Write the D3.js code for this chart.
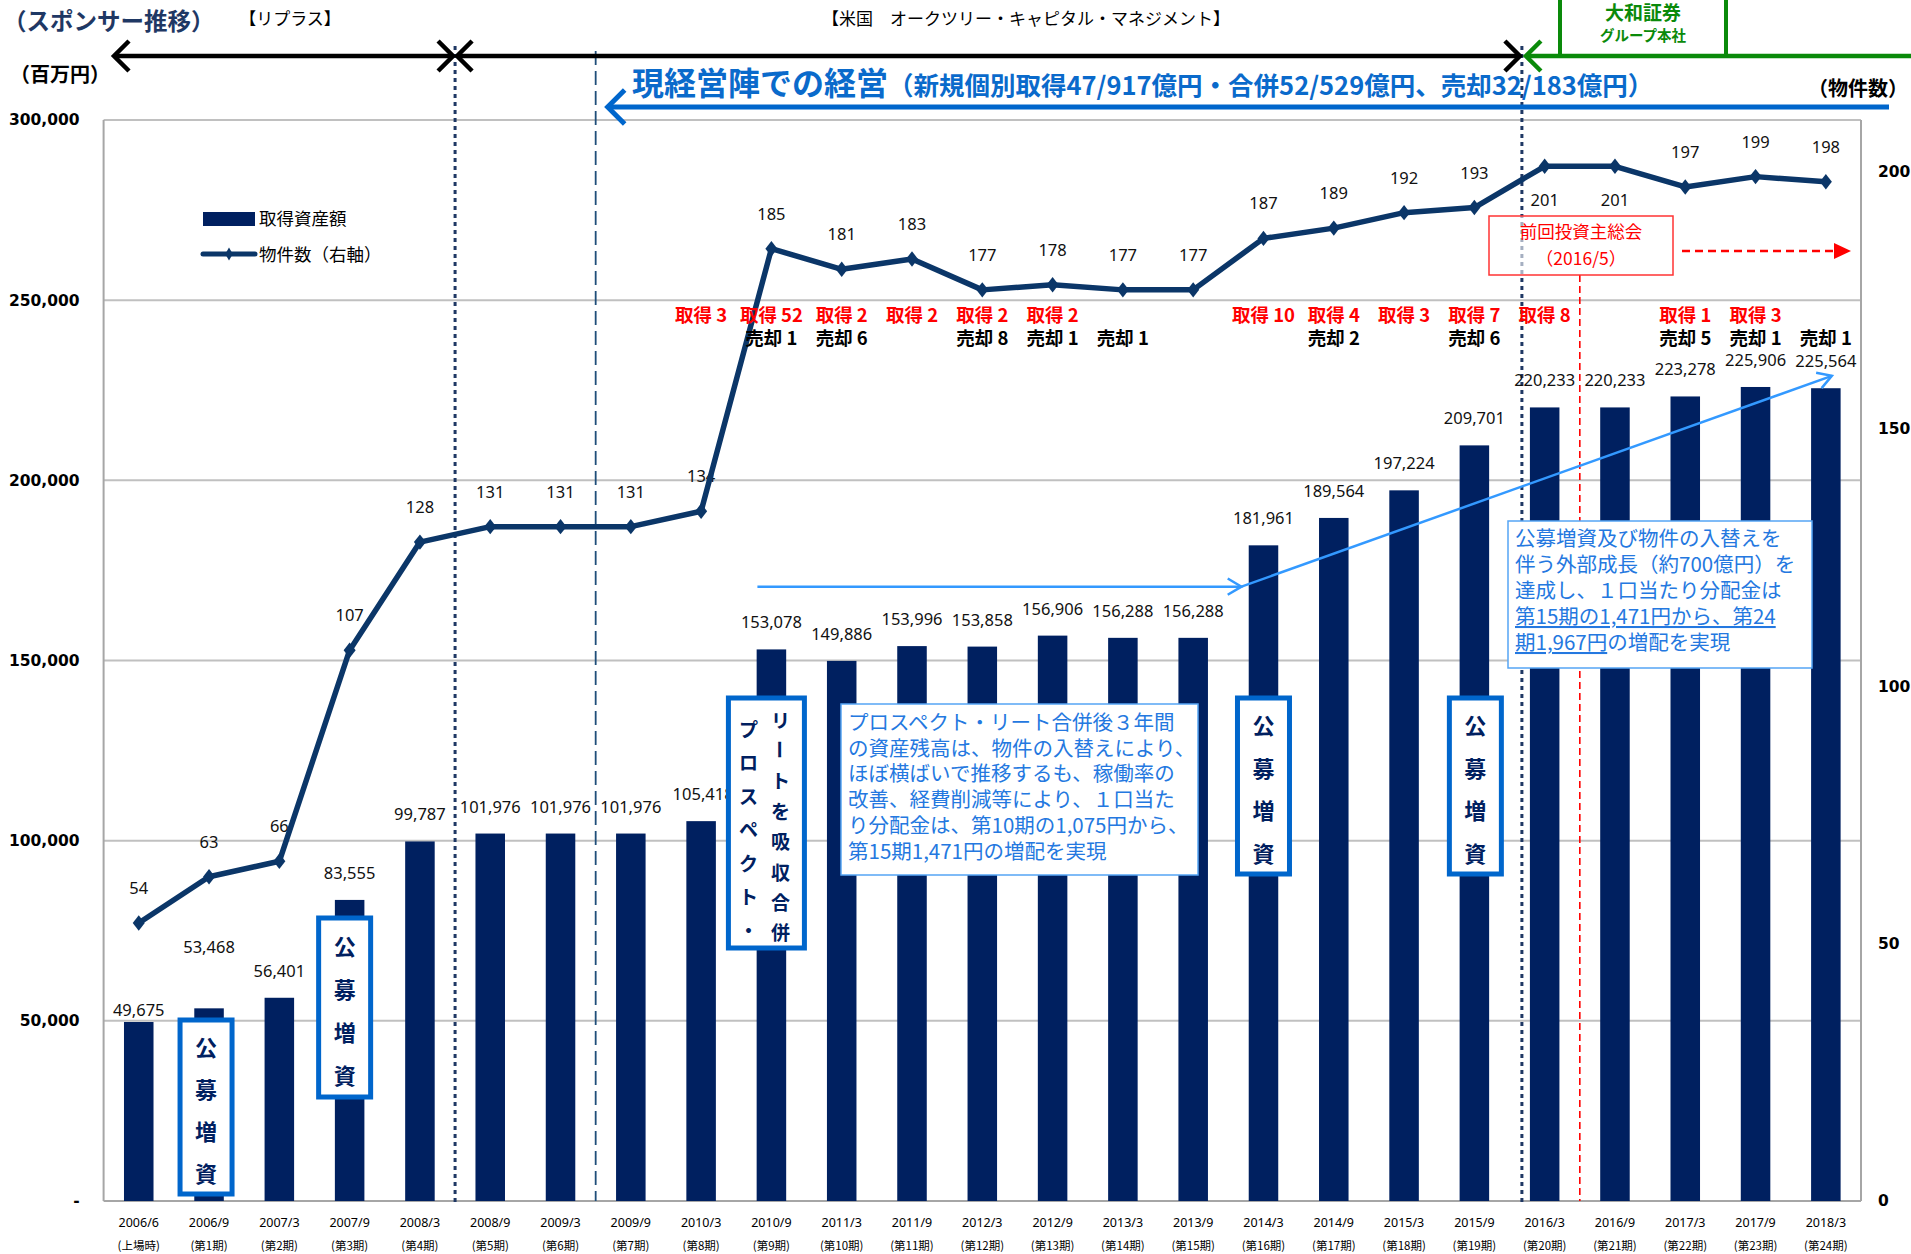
<!DOCTYPE html>
<html><head><meta charset="utf-8">
<script src="https://cdn.jsdelivr.net/npm/d3@7"></script>
<style>body{margin:0;background:#fff;} svg{display:block;}</style>
</head><body>
<svg id="c" width="1911" height="1254"></svg>
<script>
// ---------- data ----------
const periods = ["2006/6","2006/9","2007/3","2007/9","2008/3","2008/9","2009/3","2009/9","2010/3","2010/9","2011/3","2011/9","2012/3","2012/9","2013/3","2013/9","2014/3","2014/9","2015/3","2015/9","2016/3","2016/9","2017/3","2017/9","2018/3"];
const periodNotes = ["(上場時)","(第1期)","(第2期)","(第3期)","(第4期)","(第5期)","(第6期)","(第7期)","(第8期)","(第9期)","(第10期)","(第11期)","(第12期)","(第13期)","(第14期)","(第15期)","(第16期)","(第17期)","(第18期)","(第19期)","(第20期)","(第21期)","(第22期)","(第23期)","(第24期)"];
const assetValues = [49675,53468,56401,83555,99787,101976,101976,101976,105418,153078,149886,153996,153858,156906,156288,156288,181961,189564,197224,209701,220233,220233,223278,225906,225564];
const propertyCounts = [54,63,66,107,128,131,131,131,134,185,181,183,177,178,177,177,187,189,192,193,201,201,197,199,198];
const acquisitions = [null,null,null,null,null,null,null,null,3,52,2,2,2,2,null,null,10,4,3,7,8,null,1,3,null];
const dispositions = [null,null,null,null,null,null,null,null,null,1,6,null,8,1,1,null,null,2,null,6,null,null,5,1,1];
const leftTicks = [0,50000,100000,150000,200000,250000,300000];
const rightTicks = [0,50,100,150,200];

// ---------- layout ----------
const W = 1911, H = 1254;
const P = {l:103.6, r:1861, t:120, b:1201};
const JP = "'Noto Sans CJK JP', sans-serif";
const NUM = "'Noto Sans', 'Noto Sans CJK JP', sans-serif";
const BAR = "#002060", LINE = "#0B3668", NAVY = "#1F3864", BLUE = "#0A6ACB", LBLUE = "#3399FF", TBLUE = "#2478E0";

const svg = d3.select("#c");
const x = d3.scaleBand().domain(periods).range([P.l, P.r]).paddingInner(0.58).paddingOuter(0.29);
const cx = p => x(p) + x.bandwidth()/2;
const step = x.step();
const yL = d3.scaleLinear().domain([0,300000]).range([P.b, P.t]);
const yR = d3.scaleLinear().domain([0,210]).range([P.b, P.t]);

// gridlines
svg.append("g").selectAll("line").data(leftTicks.filter(d=>d>0)).join("line")
  .attr("x1",P.l).attr("x2",P.r).attr("y1",d=>yL(d)).attr("y2",d=>yL(d))
  .attr("stroke","#C0C0C0").attr("stroke-width",2);
// frame
svg.append("line").attr("x1",P.l).attr("x2",P.l).attr("y1",P.t).attr("y2",P.b).attr("stroke","#A6A6A6").attr("stroke-width",2);
svg.append("line").attr("x1",P.r).attr("x2",P.r).attr("y1",P.t).attr("y2",P.b).attr("stroke","#A6A6A6").attr("stroke-width",2);
svg.append("line").attr("x1",P.l).attr("x2",P.r).attr("y1",P.b).attr("y2",P.b).attr("stroke","#A6A6A6").attr("stroke-width",2);

// axes
const axL = svg.append("g").attr("transform",`translate(${P.l-24},0)`)
  .call(d3.axisLeft(yL).tickValues(leftTicks).tickSize(0).tickPadding(0).tickFormat(d=>d===0?"-":d3.format(",")(d)));
axL.select(".domain").remove();
axL.selectAll("text").attr("font-family","'DejaVu Sans', sans-serif").attr("font-weight","bold").attr("font-size",15.5).attr("fill","#000");
const axR = svg.append("g").attr("transform",`translate(${P.r+17},0)`)
  .call(d3.axisRight(yR).tickValues(rightTicks).tickSize(0).tickPadding(0));
axR.select(".domain").remove();
axR.selectAll("text").attr("font-family","'DejaVu Sans', sans-serif").attr("font-weight","bold").attr("font-size",15.5).attr("fill","#000");

// x labels
const xl = svg.append("g");
xl.selectAll("text.p").data(periods).join("text").attr("class","p")
  .attr("x",d=>cx(d)).attr("y",1227).attr("text-anchor","middle")
  .attr("font-family",NUM).attr("font-size",12.5).attr("fill","#000").text(d=>d);
xl.selectAll("text.n").data(periods).join("text").attr("class","n")
  .attr("x",d=>cx(d)).attr("y",1250).attr("text-anchor","middle")
  .attr("font-family",JP).attr("font-size",11.5).attr("fill","#000").text((d,i)=>periodNotes[i]);

// vertical separators
const vSep1 = x(periods[5]) - (step - x.bandwidth())/2;
const vSep2 = x(periods[20]) - 8;
const vDash = x(periods[7]) - (step - x.bandwidth())/2;
const vRed = x(periods[21]) - (step - x.bandwidth())/2;
svg.append("line").attr("x1",vDash).attr("x2",vDash).attr("y1",51).attr("y2",P.b)
  .attr("stroke","#1F4E79").attr("stroke-width",1.8).attr("stroke-dasharray","14 6");

// bars
svg.append("g").selectAll("rect").data(assetValues).join("rect")
  .attr("x",(d,i)=>x(periods[i])).attr("width",x.bandwidth())
  .attr("y",d=>yL(d)).attr("height",d=>P.b-yL(d)).attr("fill",BAR);

svg.append("line").attr("x1",vRed).attr("x2",vRed).attr("y1",275).attr("y2",P.b)
  .attr("stroke","#FF0000").attr("stroke-width",1.6).attr("stroke-dasharray","7 4");
[vSep1, vSep2].forEach(v=>{
  svg.append("line").attr("x1",v).attr("x2",v).attr("y1",46).attr("y2",P.b+2)
    .attr("stroke",NAVY).attr("stroke-width",3).attr("stroke-dasharray","4 4");
});

// bar labels
const barLabelLift = {0:6, 1:55};
svg.append("g").selectAll("text").data(assetValues).join("text")
  .attr("x",(d,i)=>cx(periods[i])+(i===8?2:0)).attr("y",(d,i)=>yL(d)-(barLabelLift[i] ?? 21))
  .attr("text-anchor","middle").attr("font-family",NUM).attr("font-size",16.5).attr("fill","#111")
  .text(d=>d3.format(",")(d));

// line labels
const lineLabelBelow = new Set([20,21]);
svg.append("g").selectAll("text").data(propertyCounts).join("text")
  .attr("x",(d,i)=>cx(periods[i])).attr("y",(d,i)=>lineLabelBelow.has(i)? yR(d)+40 : yR(d)-29)
  .attr("text-anchor","middle").attr("font-family",NUM).attr("font-size",16.5).attr("fill","#111")
  .text(d=>d);

// line
const lineGen = d3.line().x((d,i)=>cx(periods[i])).y(d=>yR(d));
svg.append("path").datum(propertyCounts).attr("d",lineGen).attr("fill","none")
  .attr("stroke",LINE).attr("stroke-width",5.5).attr("stroke-linejoin","round");
svg.append("g").selectAll("path").data(propertyCounts).join("path")
  .attr("d",d3.symbol(d3.symbolDiamond,95)).attr("fill",LINE)
  .attr("transform",(d,i)=>`translate(${cx(periods[i])},${yR(d)}) scale(1.15,0.85)`);

// acquisition / disposition labels
const acqG = svg.append("g");
acquisitions.forEach((d,i)=>{ if(d!==null) acqG.append("text").attr("x",cx(periods[i])).attr("y",322)
  .attr("text-anchor","middle").attr("font-family",JP).attr("font-weight","bold").attr("font-size",18.5)
  .attr("fill","#FF0000").text("取得 "+d); });
dispositions.forEach((d,i)=>{ if(d!==null) acqG.append("text").attr("x",cx(periods[i])).attr("y",345)
  .attr("text-anchor","middle").attr("font-family",JP).attr("font-weight","bold").attr("font-size",18.5)
  .attr("fill","#000").text("売却 "+d); });

// vertical text helper
function vText(g, chars, xc, y0, stepY, size, color){
  [...chars].forEach((ch,k)=>{
    const yy = y0 + k*stepY;
    const t = g.append("text").attr("x",xc).attr("y",yy).attr("text-anchor","middle")
      .attr("dominant-baseline","central").attr("font-family",JP).attr("font-weight","bold")
      .attr("font-size",size).attr("fill",color).text(ch);
    if(ch==="ー") t.attr("transform",`rotate(90,${xc},${yy})`);
  });
}

// 公募増資 boxes
const offerBoxes = [
  {p:"2006/9", y0:1020, y1:1194, dx:-3},
  {p:"2007/9", y0:918, y1:1097, dx:-5},
  {p:"2014/3", y0:698, y1:874, dx:0},
  {p:"2015/9", y0:698, y1:874, dx:1}
];
offerBoxes.forEach(b=>{
  const c = cx(b.p)+b.dx;
  const g = svg.append("g");
  g.append("rect").attr("x",c-26).attr("y",b.y0).attr("width",52).attr("height",b.y1-b.y0)
    .attr("fill","#fff").attr("stroke","#0066CC").attr("stroke-width",5);
  const st = (b.y1-b.y0)/4.15;
  vText(g,"公募増資",c,b.y0+st*0.62,st,22,BAR);
});

// prospect box
{
  const c = cx("2010/9")-5;
  const g = svg.append("g");
  g.append("rect").attr("x",c-38).attr("y",698).attr("width",76).attr("height",250)
    .attr("fill","#fff").attr("stroke","#0066CC").attr("stroke-width",5);
  vText(g,"リートを吸収合併",c+14,719,30.4,19,BAR);
  vText(g,"プロスペクト・",c-18,728,33.5,19,BAR);
}

// light blue arrows
function openHead(g,x2,y2,ang,len,color,w){
  const a1 = ang+Math.PI*0.83, a2 = ang-Math.PI*0.83;
  g.append("path").attr("d",`M${x2+len*Math.cos(a1)},${y2+len*Math.sin(a1)} L${x2},${y2} L${x2+len*Math.cos(a2)},${y2+len*Math.sin(a2)}`)
    .attr("fill","none").attr("stroke",color).attr("stroke-width",w).attr("stroke-linejoin","miter");
}
{
  const g = svg.append("g");
  const y1 = yL(170500);
  const xa = cx("2010/9")-14, xb = cx("2014/3")-22;
  g.append("line").attr("x1",xa).attr("x2",xb).attr("y1",y1).attr("y2",y1).attr("stroke",LBLUE).attr("stroke-width",2.5);
  openHead(g,xb,y1,0,16,LBLUE,2.5);
  const xe = cx("2018/3")+6, ye = yL(229000);
  g.append("line").attr("x1",xb).attr("x2",xe).attr("y1",y1).attr("y2",ye).attr("stroke",LBLUE).attr("stroke-width",2.5);
  openHead(g,xe,ye,Math.atan2(ye-y1,xe-xb),16,LBLUE,2.5);
}

// text box A
{
  const g = svg.append("g");
  g.append("rect").attr("x",841).attr("y",704).attr("width",357).attr("height",171)
    .attr("fill","#fff").attr("stroke","#55A5F5").attr("stroke-width",1.5);
  const lines = ["プロスペクト・リート合併後３年間","の資産残高は、物件の入替えにより、","ほぼ横ばいで推移するも、稼働率の","改善、経費削減等により、１口当た","り分配金は、第10期の1,075円から、","第15期1,471円の増配を実現"];
  lines.forEach((s,k)=>g.append("text").attr("x",848).attr("y",730+k*25.7)
    .attr("font-family",JP).attr("font-size",20.5).attr("fill",TBLUE).text(s));
}
// text box B
{
  const g = svg.append("g");
  g.append("rect").attr("x",1508).attr("y",521).attr("width",304).attr("height",147)
    .attr("fill","#fff").attr("stroke","#55A5F5").attr("stroke-width",1.5);
  const lines = ["公募増資及び物件の入替えを","伴う外部成長（約700億円）を","達成し、１口当たり分配金は"];
  lines.forEach((s,k)=>g.append("text").attr("x",1515).attr("y",546+k*26)
    .attr("font-family",JP).attr("font-size",20.5).attr("fill",TBLUE).text(s));
  g.append("text").attr("x",1515).attr("y",546+3*26).attr("font-family",JP).attr("font-size",20.5).attr("fill",TBLUE)
    .attr("text-decoration","underline").text("第15期の1,471円から、第24");
  const t5 = g.append("text").attr("x",1515).attr("y",546+4*26).attr("font-family",JP).attr("font-size",20.5).attr("fill",TBLUE);
  t5.append("tspan").attr("text-decoration","underline").text("期1,967円");
  t5.append("tspan").text("の増配を実現");
}

// red box + dashed arrow
{
  const g = svg.append("g");
  g.append("rect").attr("x",1489).attr("y",216).attr("width",184).attr("height",59)
    .attr("fill","#fff").attr("fill-opacity",0.6).attr("stroke","#FF3333").attr("stroke-width",1.5);
  g.append("text").attr("x",1581).attr("y",238).attr("text-anchor","middle").attr("font-family",JP).attr("font-size",17.5).attr("fill","#FF0000").text("前回投資主総会");
  g.append("text").attr("x",1581).attr("y",265).attr("text-anchor","middle").attr("font-family",JP).attr("font-size",17.5).attr("fill","#FF0000").text("（2016/5）");
  g.append("line").attr("x1",1682).attr("x2",1836).attr("y1",251).attr("y2",251).attr("stroke","#FF0000").attr("stroke-width",2.5).attr("stroke-dasharray","8 5");
  g.append("path").attr("d","M1834,243 L1851,251 L1834,259 Z").attr("fill","#FF0000");
}

// legend
{
  const g = svg.append("g");
  g.append("rect").attr("x",203).attr("y",212).attr("width",52).attr("height",14).attr("fill",BAR);
  g.append("text").attr("x",259).attr("y",225).attr("font-family",JP).attr("font-size",17.5).attr("fill","#000").text("取得資産額");
  g.append("line").attr("x1",203).attr("x2",255).attr("y1",254).attr("y2",254).attr("stroke",LINE).attr("stroke-width",5).attr("stroke-linecap","round");
  g.append("path").attr("d",d3.symbol(d3.symbolDiamond,50)).attr("fill",LINE).attr("transform","translate(229,254)");
  g.append("text").attr("x",259).attr("y",261).attr("font-family",JP).attr("font-size",17.5).attr("fill","#000").text("物件数（右軸）");
}

// top annotations
svg.append("text").attr("x",3).attr("y",30).attr("font-family",JP).attr("font-weight","bold").attr("font-size",23.5).attr("fill",NAVY).text("（スポンサー推移）");
svg.append("text").attr("x",290).attr("y",25).attr("text-anchor","middle").attr("font-family",JP).attr("font-size",17).attr("fill","#000").text("【リプラス】");
svg.append("text").attr("x",1026).attr("y",25).attr("text-anchor","middle").attr("font-family",JP).attr("font-size",17).attr("fill","#000").text("【米国　オークツリー・キャピタル・マネジメント】");
svg.append("text").attr("x",10).attr("y",82).attr("font-family",JP).attr("font-weight","bold").attr("font-size",20).attr("fill","#000").text("（百万円）");
svg.append("text").attr("x",1808).attr("y",96).attr("font-family",JP).attr("font-weight","bold").attr("font-size",20).attr("fill","#000").text("（物件数）");

// black sponsor arrows
function chev(g,xp,y,dir,size,color,w){
  g.append("path").attr("d",`M${xp-dir*size},${y-size} L${xp},${y} L${xp-dir*size},${y+size}`)
    .attr("fill","none").attr("stroke",color).attr("stroke-width",w);
}
{
  const g = svg.append("g");
  const yA = 56;
  g.append("line").attr("x1",115).attr("x2",vSep1-3).attr("y1",yA).attr("y2",yA).attr("stroke","#000").attr("stroke-width",4.5);
  chev(g,114,yA,-1,15,"#000",4.5); chev(g,vSep1-2,yA,1,15,"#000",4.5);
  g.append("line").attr("x1",vSep1+3).attr("x2",vSep2-2).attr("y1",yA).attr("y2",yA).attr("stroke","#000").attr("stroke-width",4.5);
  chev(g,vSep1+2,yA,-1,15,"#000",4.5); chev(g,vSep2-2,yA,1,15,"#000",4.5);
  const GR = "#0A8A0A";
  g.append("line").attr("x1",vSep2+4).attr("x2",W).attr("y1",yA).attr("y2",yA).attr("stroke",GR).attr("stroke-width",4.5);
  chev(g,vSep2+4,yA,-1,15,GR,4.5);
  g.append("rect").attr("x",1560).attr("y",-10).attr("width",166).attr("height",66).attr("fill","none").attr("stroke",GR).attr("stroke-width",4);
  g.append("text").attr("x",1643).attr("y",20).attr("text-anchor","middle").attr("font-family",JP).attr("font-weight","bold").attr("font-size",19).attr("fill",GR).text("大和証券");
  g.append("text").attr("x",1643).attr("y",41).attr("text-anchor","middle").attr("font-family",JP).attr("font-weight","bold").attr("font-size",14.5).attr("fill",GR).text("グループ本社");
}

// blue management arrow
{
  const g = svg.append("g");
  g.append("line").attr("x1",vDash+14).attr("x2",1889).attr("y1",107).attr("y2",107).attr("stroke","#0066CC").attr("stroke-width",5);
  chev(g,vDash+12,107,-1,17,"#0066CC",5);
  const t = g.append("text").attr("x",632).attr("y",95).attr("font-family",JP).attr("font-weight","bold").attr("fill",BLUE);
  t.append("tspan").attr("font-size",32).text("現経営陣での経営");
  t.append("tspan").attr("font-size",25.5).text("（新規個別取得47/917億円・合併52/529億円、売却32/183億円）");
}
</script>
</body></html>
